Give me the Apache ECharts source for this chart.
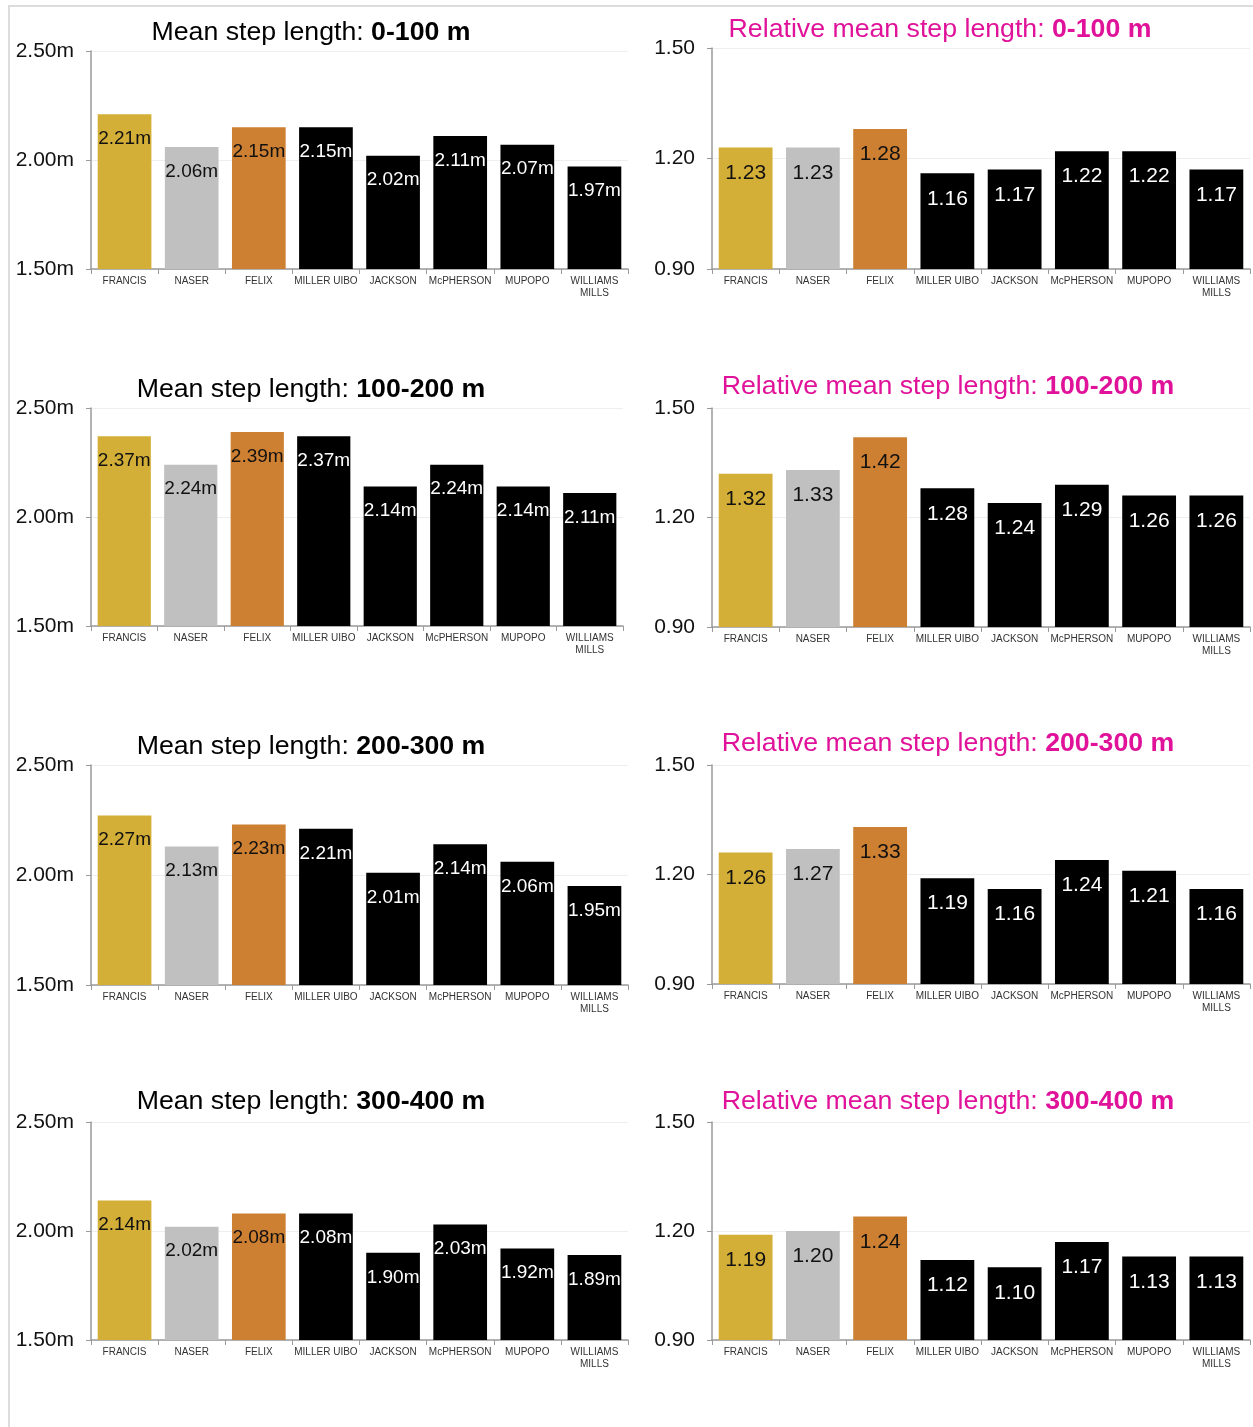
<!DOCTYPE html>
<html><head><meta charset="utf-8">
<script src="https://cdn.jsdelivr.net/npm/echarts@6/dist/echarts.min.js"></script>
<style>
html,body{margin:0;padding:0;background:#fff;}
#frame{position:absolute;left:8px;top:5px;width:1245px;height:1422px;border-left:2px solid #dcdcdc;border-top:2px solid #dcdcdc;box-sizing:border-box;}
#c{position:absolute;left:0;top:0;width:1253px;height:1427px;}
</style></head>
<body>
<div id="frame"></div>
<div id="c"></div>
<script>
const athletes = ['FRANCIS','NASER','FELIX','MILLER UIBO','JACKSON','McPHERSON','MUPOPO','WILLIAMS\nMILLS'];
const segments = ['0-100 m','100-200 m','200-300 m','300-400 m'];
const meanStep_0_100   = [2.21, 2.06, 2.15, 2.15, 2.02, 2.11, 2.07, 1.97];
const meanStep_100_200 = [2.37, 2.24, 2.39, 2.37, 2.14, 2.24, 2.14, 2.11];
const meanStep_200_300 = [2.27, 2.13, 2.23, 2.21, 2.01, 2.14, 2.06, 1.95];
const meanStep_300_400 = [2.14, 2.02, 2.08, 2.08, 1.90, 2.03, 1.92, 1.89];
const relStep_0_100    = [1.23, 1.23, 1.28, 1.16, 1.17, 1.22, 1.22, 1.17];
const relStep_100_200  = [1.32, 1.33, 1.42, 1.28, 1.24, 1.29, 1.26, 1.26];
const relStep_200_300  = [1.26, 1.27, 1.33, 1.19, 1.16, 1.24, 1.21, 1.16];
const relStep_300_400  = [1.19, 1.20, 1.24, 1.12, 1.10, 1.17, 1.13, 1.13];
const meanTicks = [1.5, 2.0, 2.5];
const relTicks = [0.9, 1.2, 1.5];

const meanData = [meanStep_0_100, meanStep_100_200, meanStep_200_300, meanStep_300_400];
const relData = [relStep_0_100, relStep_100_200, relStep_200_300, relStep_300_400];

const barColors = ['#D4AF37','#C0C0C0','#CD7F32','#000000','#000000','#000000','#000000','#000000'];
const labelColors = ['#111','#111','#111','#fff','#fff','#fff','#fff','#fff'];
const FONT = '"Liberation Sans", Arial, sans-serif';

const leftTops = [51, 408, 765, 1122];
const leftBottoms = [269, 626, 985, 1340];
const leftWidths = [537, 532, 537, 537];
const rightTops = [48, 408, 765, 1122];
const rightBottoms = [269, 627, 984, 1340];
const leftTitleY = [14, 371, 728, 1083];
const rightTitleY = [11, 368, 725, 1083];
const leftTitleX = [306, 306, 306, 306];
const rightTitleX = [935, 943, 943, 943];

const grids = [], xAxes = [], yAxes = [], series = [], titles = [];

function addPanel(idx, left, top, width, height, values, ticks, fmt, labelSize) {
  grids.push({left: left, top: top, width: width, height: height});
  xAxes.push({
    type: 'category', gridIndex: idx, data: athletes,
    axisLine: {lineStyle: {color: '#9a9a9a', width: 1.5}},
    axisTick: {show: true, alignWithLabel: false, length: 5, lineStyle: {color: '#9a9a9a'}},
    axisLabel: {fontFamily: FONT, fontSize: 10, color: '#333', margin: 6, interval: 0, lineHeight: 12}
  });
  yAxes.push({
    type: 'value', gridIndex: idx, min: ticks[0], max: ticks[ticks.length-1],
    interval: +(ticks[1]-ticks[0]).toFixed(2),
    axisLine: {show: true, lineStyle: {color: '#9a9a9a', width: 1.5}},
    axisTick: {show: true, length: 5, lineStyle: {color: '#9a9a9a'}},
    splitLine: {show: true, lineStyle: {color: '#eeeeee'}},
    axisLabel: {fontFamily: FONT, fontSize: 21, color: '#111', margin: 17, formatter: fmt}
  });
  series.push({
    type: 'bar', xAxisIndex: idx, yAxisIndex: idx, barCategoryGap: '20%',
    data: values.map((v, i) => ({
      value: v,
      itemStyle: {color: barColors[i]},
      label: {color: labelColors[i]}
    })),
    label: {
      show: true, position: 'insideTop', distance: 15,
      fontFamily: FONT, fontSize: labelSize,
      formatter: p => fmt(p.value)
    },
    silent: true
  });
}

let idx = 0;
for (let r = 0; r < 4; r++) {
  addPanel(idx++, 91, leftTops[r], leftWidths[r], leftBottoms[r]-leftTops[r], meanData[r], meanTicks,
    v => v.toFixed(2) + 'm', 19);
  titles.push({
    text: '{a|Mean step length: }{b|' + segments[r] + '}',
    left: leftTitleX[r], top: leftTitleY[r], textAlign: 'center',
    textStyle: {fontWeight: 'normal', rich: {
      a: {fontFamily: FONT, fontSize: 26.7, color: '#000', fontWeight: 'normal'},
      b: {fontFamily: FONT, fontSize: 26.7, color: '#000', fontWeight: 'bold'}
    }}
  });
  addPanel(idx++, 712, rightTops[r], 538, rightBottoms[r]-rightTops[r], relData[r], relTicks,
    v => v.toFixed(2), 21);
  titles.push({
    text: '{a|Relative mean step length: }{b|' + segments[r] + '}',
    left: rightTitleX[r], top: rightTitleY[r], textAlign: 'center',
    textStyle: {fontWeight: 'normal', rich: {
      a: {fontFamily: FONT, fontSize: 26.7, color: '#E0129A', fontWeight: 'normal'},
      b: {fontFamily: FONT, fontSize: 26.7, color: '#E0129A', fontWeight: 'bold'}
    }}
  });
}

const chart = echarts.init(document.getElementById('c'), null, {renderer: 'canvas'});
chart.setOption({
  animation: false,
  backgroundColor: 'transparent',
  title: titles,
  grid: grids,
  xAxis: xAxes,
  yAxis: yAxes,
  series: series
});
</script>
</body></html>
